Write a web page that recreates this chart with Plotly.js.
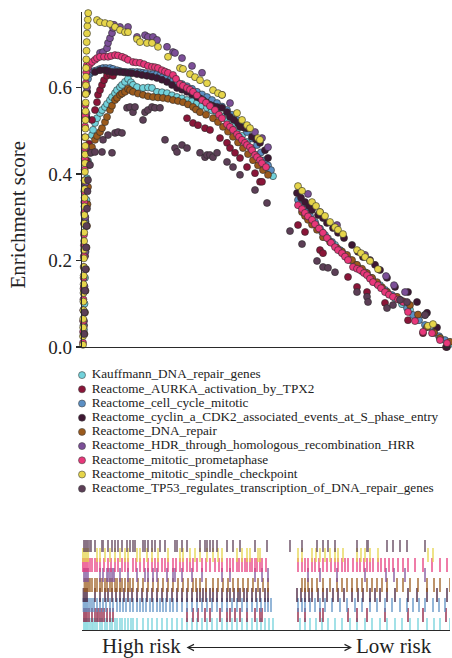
<!DOCTYPE html>
<html><head><meta charset="utf-8">
<script src="https://cdn.plot.ly/plotly-3.0.1.min.js"></script>
<style>html,body{margin:0;padding:0;background:#fff}</style>
</head><body><div id="chart" style="width:452px;height:658px"></div>
<script>
const seriesNames = [
  'Kauffmann_DNA_repair_genes',
  'Reactome_AURKA_activation_by_TPX2',
  'Reactome_cell_cycle_mitotic',
  'Reactome_cyclin_a_CDK2_associated_events_at_S_phase_entry',
  'Reactome_DNA_repair',
  'Reactome_HDR_through_homologous_recombination_HRR',
  'Reactome_mitotic_prometaphase',
  'Reactome_mitotic_spindle_checkpoint',
  'Reactome_TP53_regulates_transcription_of_DNA_repair_genes'
];
const seriesColors = ['#72d2db','#8a1538','#5b8fc4','#3e1733','#9b5a1c','#7c4f98','#e8377a','#e6d54a','#5c3e56'];

const kauffmannRank = [2,2.5,3,3.5,4,4.5,5,6, 8,10,11,13,15,18,20,23,25,28,30,33,35,38,40,43,46,49,51,55,61,66,70,75,80,85,90,95,100,105,110,115,120,125,130,135,140,145,150,155,160,165,170,175,179,183,187,191, 218,223,228,234,240,246,253,260,268,275,283,290,298,305,313,320,328,336,345,352,358,368];
const kauffmannES = [.04,.10,.16,.22,.28,.34,.39,.43, .455,.490,.502,.518,.529,.541,.548,.555,.562,.571,.578,.587,.594,.601,.606,.613,.620,.612,.606,.601,.599,.600,.599,.590,.589,.587,.582,.578,.575,.571,.568,.564,.558,.553,.547,.541,.533,.525,.514,.502,.488,.474,.459,.444,.432,.421,.408,.395, .328,.313,.298,.282,.266,.251,.236,.218,.201,.187,.173,.158,.143,.128,.113,.099,.086,.066,.046,.033,.021,.007];

const aurkaRank = [2,2.5,3,3.5,4,5,7, 10,13,15,16,18,20,22,25,28,31, 105,111,116,123,128,138,145,148,153,158,165,173,178,180, 216,223,238,241,266,275,285,303,326,341,364];
const aurkaES = [.05,.13,.21,.29,.37,.43,.47, .525,.548,.566,.583,.594,.606,.617,.627,.631,.627, .529,.518,.513,.506,.502,.483,.472,.460,.449,.437,.416,.402,.382,.382, .282,.266,.224,.217,.162,.139,.127,.102,.062,.032,.000];

const cellCycleRank = [1.5,2,2.5,3,3.5,4,4.5,5,6, 8,10,12,15,18,21,24,28,31,35,38,41,44,48,51,55,58,61,64,68,71,75,78,81,84,88,91,95,100,105,110,115,120,125,130,135,140,145,150,155,160,165,170,175,179,183,186,189, 216,220,223,228,233,238,243,250,258,265,273,280,288,295,303,310,318,325,331,337,343,351,357,363];
const cellCycleES = [.05,.13,.21,.29,.37,.45,.53,.59,.62, .632,.636,.638,.640,.643,.645,.645,.645,.643,.640,.638,.636,.636,.636,.636,.636,.635,.634,.633,.631,.631,.631,.628,.624,.621,.617,.615,.613,.608,.603,.597,.590,.584,.578,.571,.564,.556,.548,.537,.525,.511,.497,.482,.467,.450,.432,.420,.409, .340,.330,.317,.303,.289,.274,.259,.243,.224,.207,.190,.175,.160,.146,.132,.120,.109,.090,.074,.062,.051,.035,.025,.016];

const cyclinRank = [1.5,2,2.5,3,3.5,4,4.5,5, 13,18,23,26,30,34,38,42,46,50,55,60,65,70,75,80,85,90,95,100,105,110,115,118,121,124,128,131,135,140,145,148,152,156,158,162,165,170,174,178,183,186, 215,219,223,227,230,236,241,245,251,256,262,270,276,281,288,293,298,305,313,326,335,345,355,365];
const cyclinES = [.06,.14,.22,.30,.38,.46,.53,.59, .636,.640,.640,.638,.636,.636,.636,.635,.634,.633,.631,.629,.627,.625,.622,.618,.613,.606,.599,.595,.590,.584,.578,.575,.571,.566,.560,.557,.555,.553,.543,.532,.525,.518,.509,.507,.506,.486,.480,.472,.455,.437, .356,.345,.335,.326,.317,.305,.298,.287,.275,.264,.252,.236,.220,.208,.201,.190,.178,.160,.139,.127,.104,.079,.045,.000];

const dnaRepairRank = [2.5,3,3.5,4,4.5,5,5.5,6, 7,8,10,13,15,18,20,23,25,28,30,33,35,38,40,43,46,48,51,56,61,66,71,76,81,86,91,96,101,106,111,114,118,124,131,136,141,146,151,156,161,166,171,176,181,186, 220,223,226,230,235,241,248,255,260,265,270,275,280,285,290,295,300,305,315,321,328,336,345,352,358,368];
const dnaRepairES = [.03,.08,.13,.18,.23,.28,.33,.37, .421,.449,.462,.479,.488,.497,.506,.520,.532,.548,.558,.571,.576,.583,.586,.590,.597,.594,.590,.586,.583,.580,.578,.577,.576,.574,.571,.569,.566,.561,.555,.549,.543,.537,.529,.520,.509,.498,.486,.473,.460,.446,.432,.420,.409,.398, .312,.303,.294,.283,.271,.254,.243,.229,.221,.213,.201,.190,.181,.171,.160,.150,.138,.127,.116,.106,.097,.075,.046,.033,.021,.012];

const hdrRank = [2,2.5,3,3.3,3.6,4,4.5,5,6, 18,21,25,26,28,30,31,32,38,46,55,63,66,71,75,85,91,93,100,110,120,140,148,173,180,186, 226,238,255,283,304,312,323,343];
const hdrES = [.06,.14,.22,.30,.38,.46,.54,.60,.64, .680,.682,.691,.703,.714,.726,.738,.745,.740,.740,.717,.721,.717,.717,.710,.694,.682,.680,.668,.650,.634,.583,.564,.497,.483,.462, .354,.312,.282,.213,.164,.143,.127,.074];

const prometaphaseRank = [1,1.1,1.2,1.3,1.4,1.5,1.6,1.7,1.8,1.9,2,2.1,2.2,2.3,2.4,2.5,2.6,2.7,2.8,2.9,3,3.1,3.3,3.5,3.8,4.2,5, 6,8,10,13,15,18,22,26,29,33,36,40,43,46,51,54,58,62,66,70,73,76,80,83,86,91,94,98,101,105,108,111,115,120,124,128,133,137,140,145,148,151,155,157,160,163,165,168,170,173,175,178,180,184, 216,220,223,226,230,233,237,241,245,249,253,256,260,263,266,271,275,278,282,285,288,291,296,299,303,307,311,316,321,326,333,341,350,358,365];
const prometaphaseES = [.01,.035,.06,.085,.11,.135,.16,.185,.21,.235,.26,.285,.31,.335,.36,.385,.41,.435,.46,.485,.51,.535,.56,.585,.61,.635,.652, .647,.655,.659,.664,.668,.671,.671,.671,.673,.675,.674,.671,.668,.664,.659,.658,.657,.654,.650,.648,.647,.645,.640,.637,.634,.629,.620,.608,.604,.599,.595,.590,.582,.571,.565,.557,.548,.537,.529,.515,.509,.502,.492,.486,.479,.472,.467,.462,.455,.444,.439,.432,.425,.416, .328,.319,.310,.302,.294,.284,.274,.264,.252,.241,.231,.224,.217,.209,.201,.185,.181,.178,.171,.166,.158,.150,.143,.136,.127,.121,.116,.110,.104,.081,.060,.035,.032,.016,.009];

const spindleRank = [1,1,1.2,1.2,1.4,1.4,1.5,1.6,1.7,1.8,1.9,2,2.1,2.2,2.3,2.4,2.5,2.6,2.7,2.8,2.9,3,3.1,3.2,3.3,3.4,3.5,3.6,3.7,3.8,3.9,4,4.1,4.3,4.5,4.7,5,5.4,5.8,6.2, 15,18,23,28,33,38,43,46,55,58,65,70,76,86,98,101,108,113,118,125,131,136,140,155,160,165,168,176,178, 216,220,230,234,238,243,248,253,256,261,275,279,283,288,296,346,351];
const spindleES = [.005,.025,.045,.065,.085,.105,.125,.145,.165,.185,.205,.225,.245,.265,.285,.305,.325,.345,.365,.385,.405,.425,.445,.465,.485,.505,.525,.545,.565,.585,.605,.625,.645,.665,.685,.705,.725,.742,.757,.772, .756,.751,.749,.747,.740,.733,.728,.728,.712,.705,.703,.703,.694,.671,.645,.643,.631,.624,.617,.610,.594,.587,.583,.541,.525,.513,.506,.483,.479, .372,.361,.335,.326,.312,.303,.289,.277,.271,.261,.224,.217,.208,.199,.180,.049,.053];

const tp53Rank = [2,2.5,3,3.5,4,4.5,5,5.5, 6,8,9,13,20,21,26,30,33,36,40, 45,48,51,53,61,63,66,70,73,78, 83,93,95,100,105,118,123,125,128,131,135,145,151,158,173,185, 208,220,235,241,246,253,275,285,286,305,311,318,325,343];
const tp53ES = [.03,.08,.13,.18,.23,.28,.32,.36, .386,.421,.449,.451,.451,.479,.490,.449,.495,.497,.495, .553,.555,.543,.555,.525,.543,.548,.555,.553,.553, .479,.460,.451,.467,.460,.449,.439,.444,.444,.439,.449,.428,.416,.398,.363,.333, .268,.238,.199,.185,.183,.173,.127,.116,.104,.090,.097,.109,.104,.074];

const yTickValues = [0, 0.2, 0.4, 0.6];
const yTickLabels = ['0.0', '0.2', '0.4', '0.6'];
const yAxisTitle = 'Enrichment score';
const riskLeft = 'High risk';
const riskRight = 'Low risk';

const ranks = [kauffmannRank, aurkaRank, cellCycleRank, cyclinRank, dnaRepairRank, hdrRank, prometaphaseRank, spindleRank, tp53Rank];
const scores = [kauffmannES, aurkaES, cellCycleES, cyclinES, dnaRepairES, hdrES, prometaphaseES, spindleES, tp53ES];

const serif = 'Liberation Serif, Times New Roman, serif';
const traces = [];
ranks.forEach((r, i) => {
  traces.push({
    type: 'scatter', mode: 'markers', x: r, y: scores[i], xaxis: 'x', yaxis: 'y',
    cliponaxis: false, hoverinfo: 'skip',
    marker: {size: 7, color: seriesColors[i], line: {color: '#2a2a2a', width: 0.6}}
  });
});
ranks.forEach((r, i) => {
  traces.push({
    type: 'scatter', mode: 'markers', x: r, y: r.map(() => i + 0.5), xaxis: 'x2', yaxis: 'y2',
    hoverinfo: 'skip', opacity: 0.72,
    marker: {symbol: 'line-ns', size: 10, line: {color: seriesColors[i], width: 1.8}}
  });
});
const legendIdx = seriesNames.map((_, i) => i);
traces.push({
  type: 'scatter', mode: 'markers', x: legendIdx.map(() => 0), y: legendIdx, xaxis: 'x3', yaxis: 'y3',
  cliponaxis: false, hoverinfo: 'skip',
  marker: {size: 7, color: seriesColors, line: {color: '#444', width: 0.6}}
});
traces.push({
  type: 'scatter', mode: 'text', x: legendIdx.map(() => 9.7), y: legendIdx, xaxis: 'x3', yaxis: 'y3',
  text: seriesNames, textposition: 'middle right', cliponaxis: false, hoverinfo: 'skip',
  textfont: {family: serif, size: 13.2, color: '#222'}
});

const W = 452, H = 658, ML = 82, MR = 2, MT = 12, MB = 20;
const plotW = W - ML - MR, plotH = H - MT - MB;
const px2x = px => (px - ML) / plotW;
const py2y = py => (H - MB - py) / plotH;

const layout = {
  width: W, height: H,
  margin: {l: ML, r: MR, t: MT, b: MB},
  paper_bgcolor: '#fff', plot_bgcolor: '#fff',
  showlegend: false,
  font: {family: serif, color: '#222'},
  xaxis: {domain: [0, 1], range: [0, 368], anchor: 'y', showline: true, linecolor: '#2a2a2a', linewidth: 1.2,
          ticks: '', showticklabels: false, showgrid: false, zeroline: false},
  yaxis: {domain: [py2y(347), 1], range: [0, 0.7746], anchor: 'x', showline: true, linecolor: '#2a2a2a', linewidth: 1.2,
          tickvals: yTickValues, ticktext: yTickLabels, ticks: 'outside', ticklen: 5, tickwidth: 1.2, tickcolor: '#2a2a2a',
          tickfont: {family: serif, size: 19, color: '#222'}, showgrid: false, zeroline: false},
  xaxis2: {domain: [0, 1], range: [0, 368], anchor: 'y2', showline: true, linecolor: '#2a2a2a', linewidth: 1.2,
           ticks: '', showticklabels: false, showgrid: false, zeroline: false},
  yaxis2: {domain: [py2y(630), py2y(540)], range: [0, 9], anchor: 'x2', visible: false},
  xaxis3: {domain: [0, 1], range: [0, 368], anchor: 'y3', visible: false},
  yaxis3: {domain: [py2y(495.8), py2y(368)], range: [8.5, -0.5], anchor: 'x3', visible: false},
  annotations: [
    {xref: 'paper', yref: 'paper', x: px2x(17.5), y: py2y(215), text: yAxisTitle, textangle: -90,
     showarrow: false, xanchor: 'center', yanchor: 'middle', font: {family: serif, size: 21, color: '#222'}},
    {xref: 'paper', yref: 'paper', x: px2x(183), y: py2y(646), text: riskLeft, showarrow: false,
     xanchor: 'right', yanchor: 'middle', font: {family: serif, size: 21, color: '#222'}},
    {xref: 'paper', yref: 'paper', x: px2x(354), y: py2y(646), text: riskRight, showarrow: false,
     xanchor: 'left', yanchor: 'middle', font: {family: serif, size: 21, color: '#222'}},
    {xref: 'paper', yref: 'paper', x: px2x(352), y: py2y(647.5), text: '', showarrow: true,
     ax: -167, ay: 0, arrowside: 'end+start', arrowhead: 5, startarrowhead: 5, arrowsize: 1.1, startarrowsize: 1.1,
     arrowwidth: 1.1, arrowcolor: '#222', standoff: 0, startstandoff: 0}
  ]
};

Plotly.newPlot('chart', traces, layout, {staticPlot: true, displayModeBar: false});
</script></body></html>
